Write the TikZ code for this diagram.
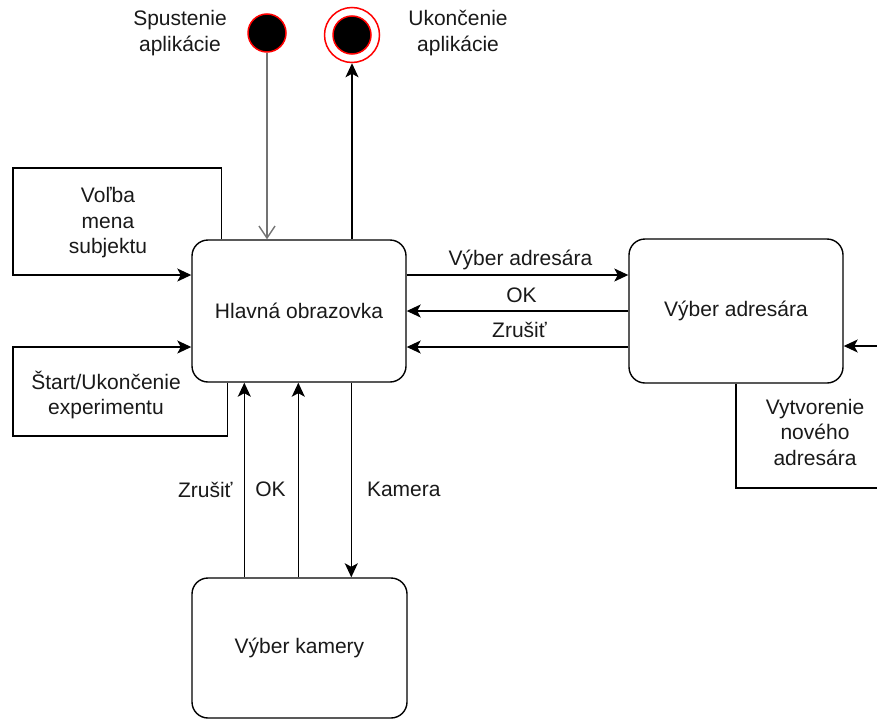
\documentclass[tikz,border=0pt]{standalone}
\usepackage{fontspec}
\setmainfont{Liberation Sans}
\usetikzlibrary{arrows.meta}
\begin{document}
\begin{tikzpicture}[x=1pt,y=-1pt,
  every node/.style={font=\fontsize{21}{25.5}\selectfont, text=black!90},
  statebox/.style={draw, line width=1.4pt, rounded corners=16pt, align=center, inner sep=0pt},
  arr/.style={draw, line width=1.4pt, -{Stealth[length=14pt,width=13pt,inset=3.5pt]}},
  openarr/.style={draw=black!55, line width=1.4pt, -{Straight Barb[length=12pt,width=16pt,line width=1.4pt]}},
  lbl/.style={inner sep=0pt, align=center},
  initstate/.style={circle, draw=red, fill=black, line width=1.5pt, minimum size=38pt, inner sep=0pt},
  finalring/.style={circle, draw=red, fill=white, line width=1.5pt, minimum size=55pt, inner sep=0pt},
]
\useasboundingbox (0,0) rectangle (877,720);

% state boxes
\node[statebox, minimum width=214pt, minimum height=142pt] (main) at (299,311) {Hlavná obrazovka};
\node[statebox, minimum width=214pt, minimum height=144pt] (adr) at (736,311) {Výber adresára};
\node[statebox, minimum width=215pt, minimum height=140pt] (kam) at (299.5,648) {Výber kamery};

% start / end
\node[initstate] (start) at (267,33) {};
\node[finalring] (endring) at (352,35) {};
\node[initstate] (endin) at (352,35) {};

\node[lbl] (lstart) at (180,33) {Spustenie\\aplikácie};
\node[lbl] (lend) at (458,33) {Ukončenie\\aplikácie};

% start and end connectors
\draw[openarr] (start.south) -- (start.south |- main.north);
\draw[arr] (endring.south |- main.north) -- (endring.south);

% self loops on main
\draw[arr] ([xshift=30pt]main.north west) |- (13,168) |- ([yshift=36pt]main.west);
\node[lbl] (lvolba) at (108,223) {Voľba\\mena\\subjektu};

\draw[arr] ([xshift=36pt]main.south west) |- (13,436) |- ([yshift=-36pt]main.west);
\node[lbl] (lstart2) at (106,395) {Štart/Ukončenie\\experimentu};

% self loop on adr
\draw[arr] (adr.south) |- (880,488) |- ([yshift=-35pt]adr.east);
\node[lbl] (lnovy) at (815,432) {Vytvorenie\\nového\\adresára};

% main <-> adr
\draw[arr] ([yshift=36pt]main.east) -- ([yshift=36pt]main.east -| adr.west)
  node[lbl, midway, anchor=base, yshift=10pt, xshift=3pt] {Výber adresára};
\draw[arr] (adr.west) -- (main.east)
  node[lbl, midway, anchor=base, yshift=9pt, xshift=4pt] {OK};
\draw[arr] ([yshift=-36pt]adr.west) -- ([yshift=-36pt]adr.west -| main.east)
  node[lbl, midway, anchor=base, yshift=10pt, xshift=2pt] {Zrušiť};

% main <-> kam
\draw[arr] ([xshift=53pt]kam.north west) -- ([xshift=53pt]kam.north west |- main.south)
  node[lbl, pos=0.45, anchor=east, xshift=-11pt] {Zrušiť};
\draw[arr] ([xshift=107pt]kam.north west) -- ([xshift=107pt]kam.north west |- main.south)
  node[lbl, pos=0.45, anchor=east, xshift=-12pt] {OK};
\draw[arr] ([xshift=160pt]main.south west) -- ([xshift=160pt]main.south west |- kam.north)
  node[lbl, pos=0.55, anchor=west, xshift=15pt] {Kamera};
\end{tikzpicture}
\end{document}
